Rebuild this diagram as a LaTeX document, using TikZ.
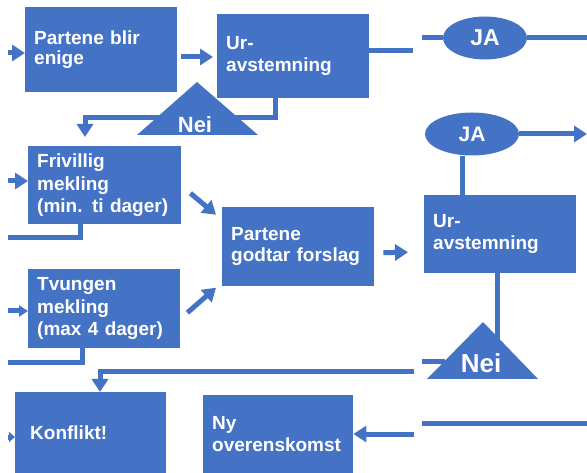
\documentclass[tikz,border=0pt]{standalone}
\usepackage{fontspec}
\setmainfont{Liberation Sans}
\usetikzlibrary{arrows.meta,shapes.geometric,calc}
\definecolor{bl}{RGB}{68,114,196}
\begin{document}
\begin{tikzpicture}[x=1pt,y=-1pt,
  box/.style={fill=bl, text=white, font=\fontsize{19}{22.5}\selectfont\bfseries,
    align=left, anchor=north west, inner xsep=9pt, inner ysep=0pt},
  ln/.style={draw=bl, line width=5pt},
  arr/.style={ln, -{Triangle[length=13pt,width=16pt]}},
  ja/.style={ellipse, fill=bl, text=white, inner sep=0pt, minimum height=43pt},
  nei/.style={text=white, inner sep=0pt, font=\bfseries}
]
\useasboundingbox[fill=white] (0,0) rectangle (587,473);

% boxes
\node[box, text width=134pt, minimum height=85pt, font=\fontsize{19}{20.5}\selectfont\bfseries] (b1) at (25,7) {Partene blir\\enige};
\node[box, text width=134pt, minimum height=84pt] (u1) at (217,14) {Ur-\\avstemning};
\node[box, text width=135pt, minimum height=78pt] (fm) at (28,146) {Frivillig\\mekling\\(min. ti dager)};
\node[box, text width=134pt, minimum height=79pt, font=\fontsize{19}{21.5}\selectfont\bfseries] (pg) at (222,207) {Partene\\godtar forslag};
\node[box, text width=134pt, minimum height=79pt] (tm) at (28,269) {Tvungen\\mekling\\(max 4 dager)};
\node[box, text width=134pt, minimum height=78pt] (u2) at (424,195) {Ur-\\avstemning};
\node[box, text width=121pt, inner xsep=15pt, minimum height=81pt] (ko) at (15,392) {Konflikt!};
\node[box, text width=132pt, minimum height=78pt] (ny) at (203,395) {Ny\\overenskomst};

% free ends
\coordinate (l1) at (8,53);
\coordinate (l2) at (8,181);
\coordinate (l3) at (8,311);
\coordinate (l4) at (8,437);
\coordinate (c1) at (413,51);
\coordinate (c2) at (422,38);
\coordinate (c3) at (587,38);
\coordinate (c4) at (275,118);
\coordinate (c5) at (85,118);
\coordinate (c6) at (85,137);
\coordinate (c7) at (80,238);
\coordinate (c8) at (8,238);
\coordinate (c9) at (82,363);
\coordinate (c10) at (8,363);
\coordinate (c11) at (587,134);
\coordinate (c12) at (497,340);
\coordinate (c13) at (445,362);
\coordinate (c14) at (422,362);
\coordinate (c15) at (414,372);
\coordinate (c16) at (100,372);
\coordinate (c17) at (422,423);
\coordinate (c18) at (587,423);
\coordinate (c19) at (414,434);

% JA ellipses
\node[ja, minimum width=84pt, font=\fontsize{23}{23}\selectfont\bfseries] (ja1) at (485,38) {JA};
\node[ja, minimum width=94pt, font=\fontsize{21}{21}\selectfont\bfseries] (ja2) at (472,134) {JA};

% incoming arrows from left
\draw[arr] (l1) -- (b1.west |- l1);
\draw[arr] (l2) -- (fm.west |- l2);
\draw[arr, -{Triangle[length=9pt,width=11pt]}] (l3) -- (tm.west |- l3);
\draw[arr, -{Triangle[length=6pt,width=10pt]}] (l4) -- (ko.west |- l4);

% top row
\draw[arr, shorten <=4pt, shorten >=4pt] (b1.east |- 0,57) -- (u1.west |- 0,57);
\draw[ln] (u1.east |- c1) -- (c1);
\draw[ln] (c2) -- (ja1.west);
\draw[ln] (ja1.east) -- (c3);
\draw[arr] (u1.south -| c4) -- (c4) -- (c5) -- (c6);
\fill[bl] (137,135) -- (197,82) -- (258,135) -- cycle;
\node[nei, font=\fontsize{22}{22}\selectfont\bfseries] (n1) at (195,125) {Nei};

% lines leaving mediation boxes
\draw[ln] (fm.south -| c7) -- (c7) -- (c8);
\draw[ln] (tm.south -| c9) -- (c9) -- (c10);

% diagonal arrows
\draw[arr] ($(fm.east)+(9,8)$) -- ($(pg.west)+(-6,-32)$);
\draw[arr] ($(tm.east)+(7,4)$) -- ($(pg.west)+(-6,41)$);
\draw[arr] ($(pg.east)+(9,6)$) -- ($(u2.west)+(-16,18)$);

% right column
\draw[ln] (ja2.south -| 462,0) -- (u2.north -| 462,0);
\draw[arr] (ja2.east) -- (c11);
\draw[ln] (u2.south -| c12) -- (c12);
\draw[ln] (c13) -- (c14);
\draw[arr] (c15) -- (c16) -- (ko.north -| c16);
\draw[ln] (c17) -- (c18);
\draw[arr] (c19) -- (ny.east |- c19);
\fill[bl] (427,379) -- (483,322) -- (538,379) -- cycle;
\node[nei, font=\fontsize{26}{26}\selectfont\bfseries] (n2) at (481,363) {Nei};
\end{tikzpicture}
\end{document}
